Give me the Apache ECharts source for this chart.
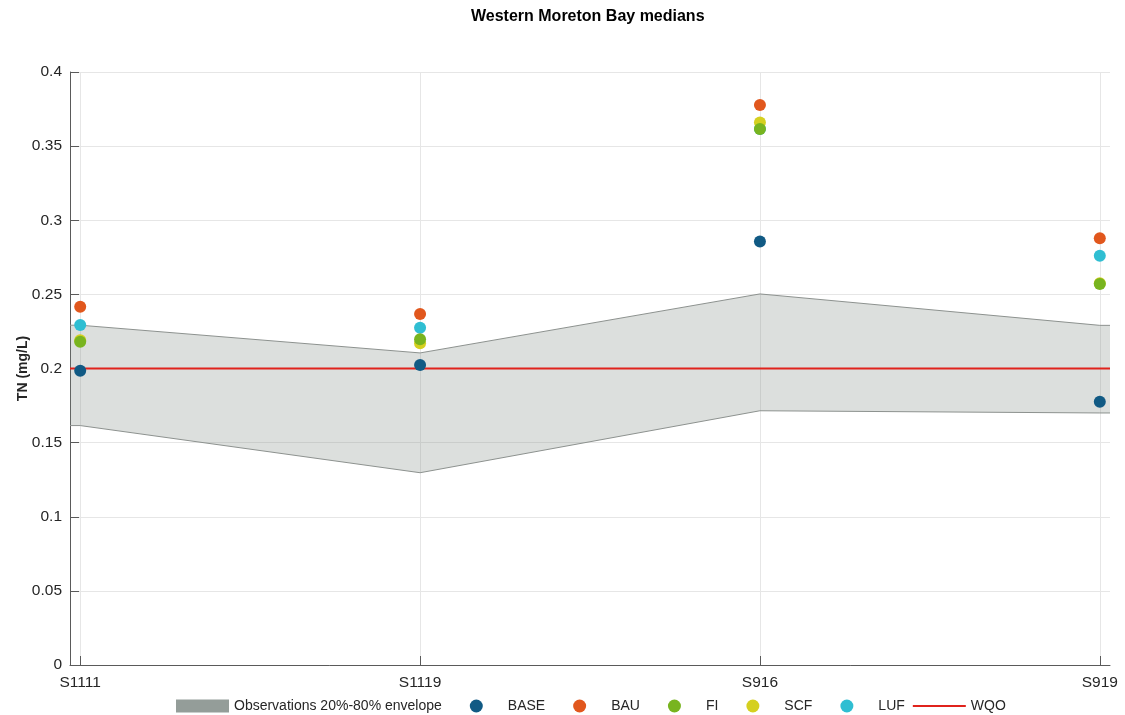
<!DOCTYPE html>
<html>
<head>
<meta charset="utf-8">
<title>Western Moreton Bay medians</title>
<script src="https://cdn.jsdelivr.net/npm/echarts@6/dist/echarts.min.js"></script>
<style>
  html, body { margin: 0; padding: 0; background: #ffffff; }
  #chart { width: 1125px; height: 715px; }
</style>
</head>
<body>
<div id="chart"></div>
<script>
// Sites along the x axis
const sites = ['S1111', 'S1119', 'S916', 'S919'];

// Scenario medians, TN (mg/L)
const base = [0.1985, 0.2024, 0.2856, 0.1776];
const bau  = [0.2417, 0.2368, 0.3777, 0.2878];
const fi   = [0.2180, 0.2197, 0.3615, 0.2570];
const scf  = [0.2190, 0.2170, 0.3660, 0.2575];
const luf  = [0.2293, 0.2275, 0.3615, 0.2761];

// Observed 20th / 80th percentile envelope
const envLow  = [0.1615, 0.1297, 0.1715, 0.1700];
const envHigh = [0.2292, 0.2105, 0.2503, 0.2291];

// Water quality objective
const wqo = 0.2;

// Y ticks
const yTicks = [0, 0.05, 0.1, 0.15, 0.2, 0.25, 0.3, 0.35, 0.4];

const X_MIN = -0.03, X_MAX = 3.03;
const siteIdx = sites.map((_, i) => i);

const colors = {
  BASE: '#115a84',
  BAU: '#e1571d',
  FI: '#78b41f',
  SCF: '#d5d01f',
  LUF: '#2fbed2',
  WQO: '#e0231c'
};

const textColor = '#262626';
const axisColor = '#5a5a5a';
const gridColor = '#e6e6e6';
const FONT = 'Liberation Sans, Arial, sans-serif';

// Legend glyphs: a 53x13 slot with the marker centred in it
const MARKER_ICON = 'path://M0,0 M53,13 M33,6.5 A6.5,6.5 0 1 1 20,6.5 A6.5,6.5 0 1 1 33,6.5 Z';
const LINE_ICON = 'path://M0,0 M53,13 M0,5.5 L53,5.5 L53,7.5 L0,7.5 Z';

function pts(vals) { return vals.map((v, i) => [i, v]); }

function scatter(name, vals, z) {
  return {
    name: name,
    type: 'scatter',
    data: pts(vals),
    symbol: 'circle',
    symbolSize: 12,
    z: z,
    itemStyle: { color: colors[name], opacity: 1 },
    emphasis: { disabled: true }
  };
}

function markerLegend(name) {
  return { name: name, icon: MARKER_ICON, itemStyle: { color: colors[name] } };
}

const chart = echarts.init(document.getElementById('chart'), null, { renderer: 'canvas' });

chart.setOption({
  animation: false,
  backgroundColor: '#ffffff',
  textStyle: { fontFamily: FONT },
  title: {
    text: 'Western Moreton Bay medians',
    left: 471,
    top: 9,
    padding: 0,
    textStyle: { fontSize: 16, fontWeight: 'bold', color: '#000000', fontFamily: FONT }
  },
  grid: { left: 70, right: 15, top: 72, bottom: 50, containLabel: false },
  legend: {
    left: 176,
    top: 699,
    padding: 0,
    itemWidth: 53,
    itemHeight: 13,
    itemGap: 8,
    symbolKeepAspect: true,
    textStyle: { fontSize: 14, color: textColor, fontFamily: FONT },
    data: [
      { name: 'Observations 20%-80% envelope', icon: 'rect', itemStyle: { color: '#949d99' } },
      markerLegend('BASE'),
      markerLegend('BAU'),
      markerLegend('FI'),
      markerLegend('SCF'),
      markerLegend('LUF'),
      { name: 'WQO', icon: LINE_ICON, itemStyle: { color: colors.WQO } }
    ]
  },
  xAxis: {
    type: 'value',
    min: X_MIN,
    max: X_MAX,
    axisLine: { show: true, onZero: false, lineStyle: { color: axisColor, width: 1 } },
    axisTick: { show: true, inside: true, length: 9, customValues: siteIdx, lineStyle: { color: axisColor } },
    axisLabel: {
      customValues: siteIdx,
      formatter: v => sites[Math.round(v)],
      fontSize: 15.5,
      color: textColor,
      margin: 10,
      fontFamily: FONT
    },
    splitLine: { show: true, customValues: siteIdx, lineStyle: { color: gridColor, width: 1 } }
  },
  yAxis: {
    type: 'value',
    min: 0,
    max: 0.4,
    interval: 0.05,
    name: 'TN (mg/L)',
    nameLocation: 'middle',
    nameGap: 40,
    nameMoveOverlap: false,
    nameTextStyle: { fontSize: 14, fontWeight: 'bold', color: textColor, fontFamily: FONT },
    axisLine: { show: true, onZero: false, lineStyle: { color: axisColor, width: 1 } },
    axisTick: { show: true, inside: true, length: 9, lineStyle: { color: axisColor } },
    axisLabel: {
      fontSize: 15.5,
      color: textColor,
      margin: 8,
      formatter: v => {
        const t = yTicks.find(k => Math.abs(k - v) < 1e-9);
        return String(t !== undefined ? t : v);
      },
      fontFamily: FONT
    },
    splitLine: { show: true, lineStyle: { color: gridColor, width: 1 } }
  },
  series: [
    {
      name: 'Observations 20%-80% envelope',
      type: 'custom',
      z: 1,
      silent: true,
      clip: true,
      itemStyle: { color: '#949d99' },
      data: pts(envHigh),
      renderItem: function (params, api) {
        if (params.dataIndex !== 0) return null;
        const xs = [X_MIN].concat(siteIdx, [X_MAX]);
        const hi = [envHigh[0]].concat(envHigh, [envHigh[envHigh.length - 1]]);
        const lo = [envLow[0]].concat(envLow, [envLow[envLow.length - 1]]);
        const upper = xs.map((x, i) => api.coord([x, hi[i]]));
        const lower = xs.map((x, i) => api.coord([x, lo[i]]));
        const poly = upper.concat(lower.slice().reverse());
        return {
          type: 'group',
          children: [
            { type: 'polygon', shape: { points: poly }, style: { fill: 'rgba(125,136,130,0.27)', stroke: null } },
            { type: 'polyline', shape: { points: upper }, style: { fill: null, stroke: '#8d928f', lineWidth: 1 } },
            { type: 'polyline', shape: { points: lower }, style: { fill: null, stroke: '#8d928f', lineWidth: 1 } }
          ]
        };
      }
    },
    {
      name: 'WQO',
      type: 'line',
      z: 2,
      symbol: 'none',
      silent: true,
      data: [[X_MIN, wqo], [X_MAX, wqo]],
      lineStyle: { color: colors.WQO, width: 2 },
      itemStyle: { color: colors.WQO }
    },
    scatter('BASE', base, 3),
    scatter('BAU', bau, 3),
    scatter('LUF', luf, 3),
    scatter('SCF', scf, 4),
    scatter('FI', fi, 5)
  ]
});
</script>
</body>
</html>
